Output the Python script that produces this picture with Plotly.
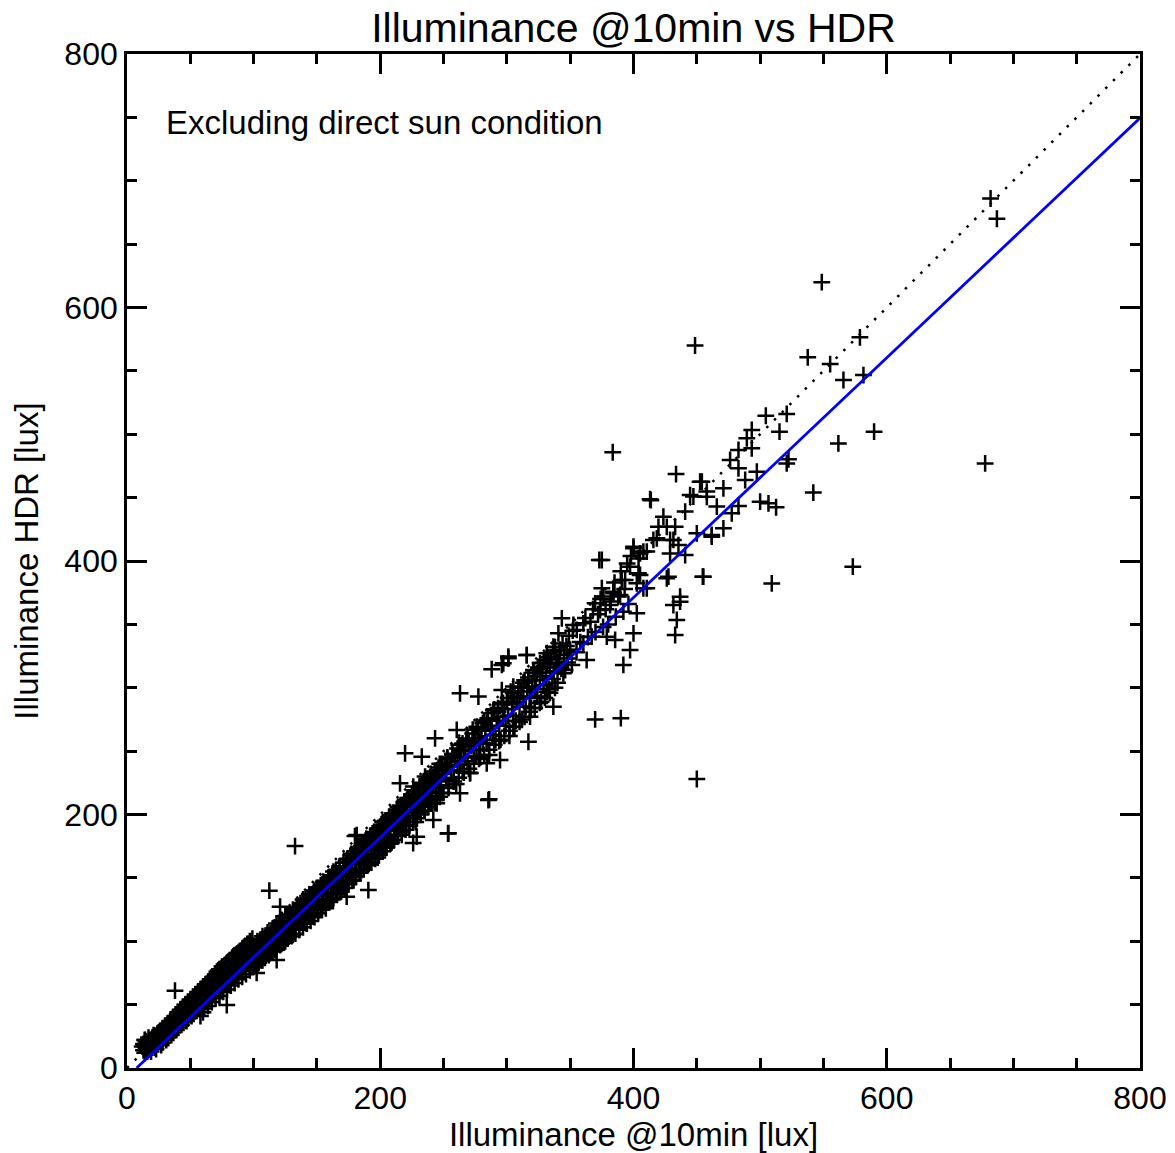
import plotly.graph_objects as go

# ---------------- data ----------------
# dense band, 12-70
x_low = [12,13,13,14,14,15,16,16,17,18,18,19,20,20,21,22,22,23,24,24,25,26,26,27,28,28,29,30,30,31,
         32,32,32,33,34,34,35,36,36,36,37,38,38,39,40,40,40,41,42,42,43,44,44,44,45,46,46,47,48,48,
         48,49,50,50,51,52,52,52,53,54,54,55,56,56,56,57,58,58,58,59,60,60,60,61,62,62,62,63,64,64,
         65,66,66,66,67,68,68,69,70,70,70]
y_low = [17,14,19,22,12,16,20,13,18,22,15,17,24,16,20,25,18,21,27,20,23,29,21,25,31,23,26,33,25,29,
         35,27,31,30,37,29,33,39,31,35,34,41,33,37,44,35,40,38,46,36,41,48,39,44,42,50,40,46,52,43,
         48,45,54,44,50,56,47,52,49,58,48,54,60,51,56,52,62,41,54,58,64,54,44,60,66,56,61,58,68,59,
         63,70,60,65,62,72,63,67,74,64,69]
x_low2 = [15,17,19,21,23,25,27,29,31,33,35,37,39,41,43,45,47,49,51,53,55,57,59,61,63,65,67,69,
          14,16,18,20,22,24,26,28,30,32,34,36,38,40,42,44,46,48,50,52,54,56,58,60,62,64,66,68,70]
y_low2 = [21,24,13,26,15,28,18,31,22,35,26,38,30,42,34,47,37,50,41,55,45,58,49,64,52,68,56,72,
          17,15,19,21,16,25,26,20,29,24,33,28,36,32,40,36,45,39,48,43,52,47,56,51,59,55,63,59,67]

# dense band, 71-99
x_mid = [71,71,72,73,73,74,75,75,75,76,77,77,78,79,79,80,80,81,81,82,83,83,84,84,85,85,86,87,87,88,
         88,89,89,90,90,91,91,92,93,93,94,94,95,95,96,97,97,98,98,99,99]
y_mid = [66,76,71,65,78,73,68,80,62,75,70,81,77,72,83,78,69,85,74,80,75,87,82,72,89,78,84,79,90,86,
         76,92,82,88,79,94,84,90,85,96,92,82,98,87,94,89,100,96,86,102,91]
x_mid2 = [72,74,76,78,80,82,84,86,88,90,92,94,96,98,
          71,73,75,77,79,81,83,85,87,89,91,93,95,97,99]
y_mid2 = [77,63,80,68,84,70,88,74,91,77,95,80,98,83,
          71,74,75,76,78,80,82,84,85,87,89,91,93,95,97]

# dense band, 100-150
x_m2 = [100,100,101,101,102,102,103,103,104,104,105,105,106,106,107,107,108,108,109,109,
        110,110,111,111,112,112,113,113,114,114,115,115,116,116,117,117,118,118,119,119,
        120,120,121,121,122,122,123,123,124,124,125,125,126,126,127,127,128,128,129,129,
        130,130,131,131,132,132,133,133,134,134,135,135,136,136,137,137,138,138,139,139,
        140,140,141,141,142,142,143,143,144,144,145,145,146,146,147,147,148,148,149,149,150,150]
y_m2 = [96,85,91,81,96,89,85,100,95,83,93,100,90,98,85,104,97,90,103,95,
        90,101,107,95,100,89,106,96,104,93,110,101,97,108,105,93,114,102,109,98,
        113,106,103,116,111,98,115,107,104,112,120,100,112,117,108,121,116,105,121,113,
        109,119,125,105,118,123,115,109,127,121,115,125,120,109,130,124,116,128,122,133,
        115,128,133,122,128,114,134,122,128,137,121,133,128,137,120,133,140,127,138,132,125,142]

# dense band, 151-250
x_h = [151,151,152,153,153,154,155,155,156,157,157,158,159,159,160,161,161,162,163,163,
       164,165,165,166,167,167,168,169,169,170,171,171,172,173,173,174,175,175,176,177,
       177,178,179,179,180,181,181,182,183,183,184,185,185,186,187,187,188,189,189,190,
       191,191,192,193,193,194,195,195,196,197,197,198,199,199,200,201,201,202,203,203,
       204,205,205,206,207,207,208,209,209,210,211,211,212,213,213,214,215,215,216,217,
       217,218,219,219,220,221,221,222,223,223,224,225,225,226,227,227,228,229,229,230,
       231,231,232,233,233,234,235,235,236,237,237,238,239,239,240,241,241,242,243,243,
       244,245,245,246,247,247,248,249,249,250]
y_h = [142,129,137,125,142,136,130,147,142,137,126,146,142,133,150,138,148,133,147,155,
       143,138,154,147,143,153,159,139,152,148,159,145,157,153,163,146,162,157,151,169,
       156,164,148,168,161,157,165,173,156,170,164,175,156,169,164,175,173,163,181,169,
       177,161,181,175,168,185,173,179,168,185,177,166,189,182,176,188,174,194,184,188,
       174,194,183,180,193,198,188,178,197,193,187,201,184,198,192,206,189,202,197,184,
       206,195,203,210,191,207,201,197,213,192,207,203,213,199,219,209,194,215,205,219,
       211,202,216,224,207,221,213,203,218,227,212,223,209,218,232,229,214,223,209,229,
       221,235,228,217,226,240,223,236,217,232]

# band, 251-350
x_d = [251,252,253,254,255,256,257,258,259,260,261,262,263,264,265,266,267,268,269,270,
       271,272,273,274,275,276,277,278,279,280,281,282,283,284,285,286,287,288,289,290,
       291,292,293,294,295,296,297,298,299,300,301,302,303,304,305,306,307,308,309,310,
       311,312,313,314,315,316,317,318,319,320,321,322,323,324,325,326,327,328,329,330,
       331,332,333,334,335,336,337,338,339,340,341,342,343,344,345,346,347,348,349,350]
y_d = [239,227,245,221,238,235,247,229,245,224,242,255,239,251,234,250,245,259,242,258,
       233,254,267,251,260,246,267,258,245,267,256,274,266,256,274,247,266,274,263,283,
       259,274,281,270,259,287,277,283,270,289,278,262,297,287,278,293,274,289,300,285,
       297,275,292,306,285,300,306,292,284,301,314,299,309,293,315,306,289,312,302,322,
       309,319,299,316,324,307,313,332,323,304,320,330,315,335,326,314,333,323,341,330]

# upper edge of the band
x_up = [60,63,66,69,72,75,78,81,84,87,90,93,96,99,102,105,108,111,114,117,
        120,123,126,129,132,135,138,141,144,147,150,153,156,159,162,165,168,171,174,177,
        180,183,186,189,192,195,198,201,204,207,210,213,216,219,222,225,228,231,234,237,
        240,243,246,249,253,257,261,265,269,273,277,281,285,289,293,297,301,305,309,313,
        317,321,325,329,333,337]
y_up = [61,63,66,68,72,74,76,79,81,84,86,89,91,94,96,99,101,104,106,109,
        112,114,117,120,122,125,128,131,134,137,140,144,146,150,152,156,159,162,165,168,
        171,174,177,180,183,186,189,192,195,198,201,204,207,210,213,216,219,222,225,228,
        231,234,237,240,244,248,252,256,260,264,268,272,276,280,284,288,292,296,300,304,
        308,312,316,320,324,328]

# lower edge of the band
x_lo = [61,64,67,70,73,76,79,82,85,88,91,94,97,100,103,106,109,112,115,118,
        121,124,127,130,133,136,139,142,145,148,151,154,157,160,163,166,169,172,175,178,
        181,184,187,190,193,196,199,202,205,208,211,214,217,220,223,226,229,232,235,238,
        241,244,247,250,254,258,262,266,270,274,278,282,286,290,294,298,302,306,310,314,
        318,322,326,330,334,338]
y_lo = [47,49,52,55,57,60,62,65,67,70,72,74,77,80,82,85,87,90,92,94,
        97,99,102,104,106,109,111,114,116,119,122,125,128,131,134,137,140,142,145,148,
        151,154,157,160,162,165,168,171,174,177,180,183,186,188,191,194,197,200,203,206,
        209,212,214,217,222,226,229,233,236,240,244,247,251,255,258,262,266,269,273,277,
        281,284,288,292,296,300]

# cluster 345-405
x_cl = [366,372,378,382,388,393,396,380,386,392,370,376,358,364,355,348,352,362,368,374,385,390,395,398,404]
y_cl = [352,358,362,368,372,378,366,350,356,360,344,348,336,340,328,320,345,355,362,370,383,392,398,404,402]

# individually read points, upper range
x_pts = [301.2,296,288,315.7,326.2,263,277.5,296,305.1,318.3,331.5,336.7,318.3,305.1,289.3,284.1,276.2,260.4,243.3,219.6,
         232.8,317,294.6,263,278.8,252.5,270.9,284.1,285.4,215.6,226.1,235.4,247.2,263,244.6,221,210.3,226.1,241.9,253.8,
         228.8,199.8,181.4,194.6,205.1,190.6,173.5,118.2,120.9,112.4,
         343.4,340.7,336.7,347.3,331.5,360.4,363,351.3,340.7,315.7,301.2,297.2,323.6,344.6,352.5,355.2,360.4,367,378.9,385.5,
         392,397.3,400,402.6,369.7,373.6,381.5,389.4,384.2,376.3,375,402.6,410.5,403.9,397.3,390.7,373,400,405.2,410.5,
         418.4,431.5,426.3,423.6,413.7,440.8,454,457.9,447.3,450,461.8,427.6,454.7,436.8,432.9,431.5,434.2,
         383.6,537.6,555.3,578.8,565.8,581.6,504.5,521,515.3,493.4,489.5,493.4,482.9,476.3,482.9,488.2,497.4,522.4,521,561.8,
         590,452.6,471,444.7,457.9,465.8,477.6,482.9,500,506.6,512.6,433.6,413.1,419.7,432.9,415.7,428.9,435.5,461.8,471,
         428.9,440.8,400,407.8,405.2,426.3,455.2,542,573.2,509.2,436.8,407.8,393.4,375,384,
         102.4,226,160]
y_pts = [324.6,318,314.6,325.8,319.3,295.6,293,298.2,300.9,293,296.9,285.1,277.2,269.3,282.4,274.6,269.3,266.7,260.1,248.3,
         245.6,257.4,243,254.8,256.2,237.7,232.5,240.4,211.4,224.6,222,229.9,222,216.7,208.8,211.4,201,198.3,195.7,185.2,
         182.5,190.4,183.8,177.3,179.9,140.4,135.2,85.2,127.3,139.9,
         354.8,342.9,332.4,329.8,327.2,350.8,321.9,318,316.6,325.8,323.2,319.3,311.4,311.4,349.5,345.6,335,340.3,340.3,337.7,
         318,329.8,342.9,358.7,366.6,361.3,365.3,373.2,374.5,371.9,378.5,382.4,378.5,390.3,395.5,385,400.8,410,406,407.4,
         417.9,416.6,427,435,448,439,462.6,454.8,450.9,421.8,420.5,387.6,387.6,367.9,341.6,365.3,353.5,
         485.8,560.7,555.4,576.5,542.8,546.7,514.6,516,502,503.4,496.8,488.9,487.6,479.7,473.1,463.9,470.5,480.2,477,492.8,
         502,462.6,457.3,452,450.7,442.9,437.6,443.4,446.8,445.5,442.4,468.6,448.7,427,427,416.6,416.6,412.6,419.2,425.8,
         406,404.7,411.3,407.4,389,386.4,387.6,454,395.5,382.3,371.8,378.5,385,400.8,375.8,
         75,177.5,150.7]

# isolated outliers
x_out = [682,687,548.7,448.6,677.7,369.7,390,450,286,132.7,37.9,78.8,14.2,180,253.5]
y_out = [686,670,620,570,477,275,276,228,212,175.1,61,49.7,22.1,183,185]

# reference lines
one_to_one = [0, 800]
fit_x = [7.6, 800]
fit_y = [0, 749.5]

title_text = "Illuminance @10min vs HDR"
x_title = "Illuminance @10min [lux]"
y_title = "Illuminance HDR [lux]"
note_text = "Excluding direct sun condition"
tick_vals = [0, 200, 400, 600, 800]

# ---------------- figure ----------------
xs = x_low + x_low2 + x_mid + x_mid2 + x_m2 + x_h + x_d + x_up + x_lo + x_cl + x_pts + x_out
ys = y_low + y_low2 + y_mid + y_mid2 + y_m2 + y_h + y_d + y_up + y_lo + y_cl + y_pts + y_out

FONT = "Liberation Sans, Arial, Helvetica, sans-serif"
W, H = 1175, 1153

fig = go.Figure()
fig.add_trace(go.Scatter(x=one_to_one, y=one_to_one, mode="lines",
                         line=dict(color="black", width=2.5, dash="2.5px,8.4px"),
                         hoverinfo="skip", showlegend=False))
fig.add_trace(go.Scatter(x=xs, y=ys, mode="markers",
                         marker=dict(symbol="cross-thin", size=12,
                                     line=dict(color="black", width=2.5), color="black"),
                         showlegend=False))
fig.add_trace(go.Scatter(x=fit_x, y=fit_y, mode="lines",
                         line=dict(color="#0000ff", width=2.8),
                         hoverinfo="skip", showlegend=False))

axis_common = dict(
    range=[0, 800], tickvals=tick_vals, ticks="inside", ticklen=20, tickwidth=2.5,
    tickcolor="black", showline=True, linewidth=2.7, linecolor="black", mirror="allticks",
    showgrid=False, zeroline=False, tickfont=dict(size=32, color="black", family=FONT),
    minor=dict(ticks="inside", ticklen=10, tickwidth=2.5, tickcolor="black",
               dtick=50, tick0=0, showgrid=False),
)

fig.update_layout(
    width=W, height=H,
    margin=dict(l=119, r=43, t=46, b=93),
    plot_bgcolor="white", paper_bgcolor="white",
    font=dict(family=FONT, color="black"),
    title=dict(text=title_text, x=0.5, xref="paper", xanchor="center",
               y=1 - 20 / H, yref="container", yanchor="middle",
               font=dict(size=41, color="black", family=FONT)),
    xaxis=dict(axis_common, title=dict(text=x_title, font=dict(size=33, family=FONT), standoff=6)),
    yaxis=dict(axis_common, title=dict(text=y_title, font=dict(size=33, family=FONT), standoff=19)),
    annotations=[dict(text=note_text, x=29, y=746, xref="x", yref="y",
                      xanchor="left", yanchor="middle", showarrow=False,
                      font=dict(size=33, color="black", family=FONT))],
)

fig.write_html("out.html")
